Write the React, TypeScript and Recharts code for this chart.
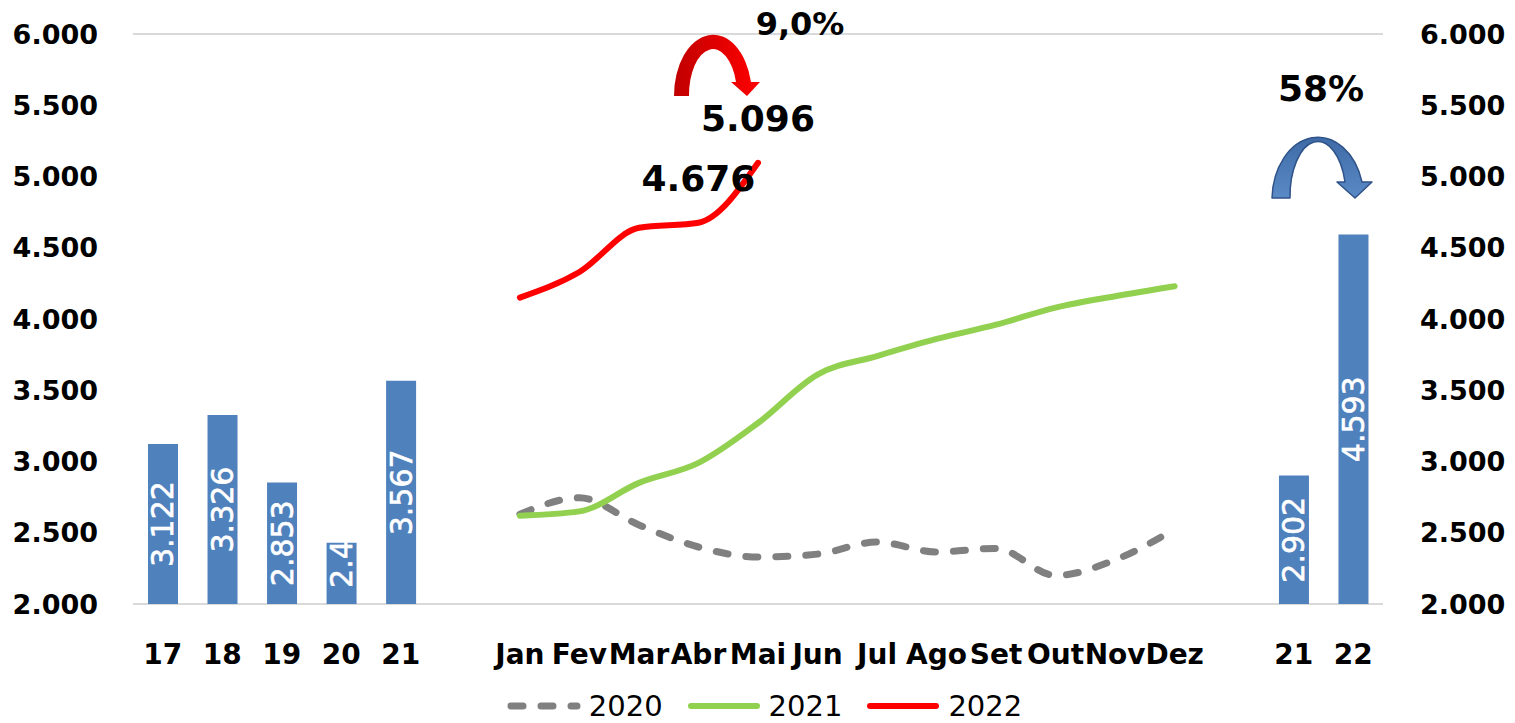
import React from 'react';
import {
  ComposedChart,
  Bar,
  Line,
  XAxis,
  YAxis,
  CartesianGrid,
  Legend,
  LabelList,
} from 'recharts';

if (typeof document !== 'undefined') document.body.style.margin = '0';

const yearLabels = ['17', '18', '19', '20', '21'];
const yearTotals = [3122, 3326, 2853, 2430, 3567];

const months = ['Jan', 'Fev', 'Mar', 'Abr', 'Mai', 'Jun', 'Jul', 'Ago', 'Set', 'Out', 'Nov', 'Dez'];
const s2020 = [2630, 2745, 2555, 2400, 2330, 2350, 2435, 2365, 2390, 2200, 2310, 2525];
const s2021 = [2620, 2650, 2850, 2990, 3270, 3610, 3740, 3860, 3960, 4080, 4160, 4230];
const s2022 = [4150, 4330, 4640, 4676, 5096];
const labelled2022 = [3, 4];

const ytdLabels = ['21', '22'];
const ytdTotals = [2902, 4593];

const yTicks = [2000, 2500, 3000, 3500, 4000, 4500, 5000, 5500, 6000];

const fmt = (n: number) => String(n).replace(/\B(?=(\d{3})+(?!\d))/g, '.');

const rows: any[] = [
  ...yearLabels.map((l, i) => ({ key: 'a' + i, label: l, total: yearTotals[i] })),
  { key: 'gap1', label: '' },
  ...months.map((m, i) => ({
    key: 'm' + i,
    label: m,
    v2020: s2020[i],
    v2021: s2021[i],
    v2022: i < s2022.length ? s2022[i] : null,
  })),
  { key: 'gap2', label: '' },
  ...ytdLabels.map((l, i) => ({ key: 'b' + i, label: l, total: ytdTotals[i] })),
];
const labelOf: Record<string, string> = {};
rows.forEach((r) => (labelOf[r.key] = r.label));

const FONT = "'DejaVu Sans', sans-serif";

const BarValue = (props: any) => {
  const { x, y, width, height, value } = props;
  const cx = x + width / 2;
  const cy = Math.min(y + height / 2, y + height - 59);
  return (
    <text
      x={cx}
      y={cy}
      transform={`rotate(-90 ${cx} ${cy})`}
      textAnchor="middle"
      dominantBaseline="central"
      fill="#fff"
      fontSize={30}
      fontFamily={FONT}
      stroke="#fff"
      strokeWidth={0.6}
    >
      {fmt(value)}
    </text>
  );
};

const PointValue = (props: any) => {
  const { x, y, index, value } = props;
  if (!labelled2022.includes(index - (yearLabels.length + 1))) return null;
  return (
    <text x={x} y={y - 32} textAnchor="middle" fontSize={36} fontWeight="bold" fontFamily={FONT} fill="#000">
      {fmt(value)}
    </text>
  );
};

const legendItems = [
  { name: '2020', color: '#808080', dash: '12 18' },
  { name: '2021', color: '#92D050', dash: undefined },
  { name: '2022', color: '#FF0000', dash: undefined },
];

const LegendBox = () => (
  <div
    style={{
      display: 'flex',
      justifyContent: 'center',
      alignItems: 'center',
      height: 40,
      gap: 24,
      paddingLeft: 14,
      paddingTop: 6,
      boxSizing: 'border-box',
    }}
  >
    {legendItems.map((it) => (
      <div key={it.name} style={{ display: 'flex', alignItems: 'center', gap: 8 }}>
        <svg width={74} height={12}>
          <line
            x1={4}
            y1={6}
            x2={70}
            y2={6}
            stroke={it.color}
            strokeWidth={it.dash ? 7 : 6}
            strokeDasharray={it.dash}
            strokeLinecap="round"
          />
        </svg>
        <span style={{ fontFamily: FONT, fontSize: 29, color: '#000', lineHeight: '34px' }}>{it.name}</span>
      </div>
    ))}
  </div>
);

export default function App() {
  return (
    <div style={{ position: 'relative', width: 1515, height: 723, background: '#fff' }}>
      <ComposedChart width={1515} height={723} data={rows} margin={{ top: 34, right: 0, bottom: 0, left: 0 }}>
        <CartesianGrid vertical={false} stroke="#d9d9d9" strokeWidth={2} />
        <XAxis
          dataKey="key"
          interval={0}
          height={79}
          axisLine={false}
          tickLine={false}
          tickMargin={34}
          tickFormatter={(v: string) => labelOf[v]}
          tick={{ fontSize: 28, fontWeight: 'bold', fill: '#000', fontFamily: FONT }}
        />
        <YAxis
          yAxisId="left"
          width={133}
          domain={[2000, 6000]}
          ticks={yTicks}
          allowDataOverflow
          axisLine={false}
          tickLine={false}
          tickMargin={29}
          tickFormatter={fmt}
          tick={{ fontSize: 27, fontWeight: 'bold', fill: '#000', fontFamily: FONT }}
        />
        <YAxis
          yAxisId="right"
          orientation="right"
          width={132}
          domain={[2000, 6000]}
          ticks={yTicks}
          allowDataOverflow
          axisLine={false}
          tickLine={false}
          tickMargin={31}
          tickFormatter={fmt}
          tick={{ fontSize: 27, fontWeight: 'bold', fill: '#000', fontFamily: FONT }}
        />
        <Legend verticalAlign="bottom" content={<LegendBox />} />
        <Bar yAxisId="left" dataKey="total" fill="#4F81BD" barSize={30} isAnimationActive={false} legendType="none">
          <LabelList dataKey="total" content={<BarValue />} />
        </Bar>
        <Line
          yAxisId="right"
          type="monotone"
          dataKey="v2020"
          stroke="#808080"
          strokeWidth={7}
          strokeDasharray="12 18"
          strokeLinecap="round"
          dot={false}
          isAnimationActive={false}
        />
        <Line
          yAxisId="right"
          type="monotone"
          dataKey="v2021"
          stroke="#92D050"
          strokeWidth={6}
          strokeLinecap="round"
          dot={false}
          isAnimationActive={false}
        />
        <Line
          yAxisId="right"
          type="monotone"
          dataKey="v2022"
          stroke="#FF0000"
          strokeWidth={6}
          strokeLinecap="round"
          dot={false}
          isAnimationActive={false}
        >
          <LabelList dataKey="v2022" content={<PointValue />} />
        </Line>
      </ComposedChart>
      <svg
        width={1515}
        height={723}
        style={{ position: 'absolute', left: 0, top: 0, pointerEvents: 'none' }}
      >
        <defs>
          <linearGradient id="redArrow" x1="0" y1="0" x2="1" y2="0">
            <stop offset="0" stopColor="#C00000" />
            <stop offset="0.5" stopColor="#E00000" />
            <stop offset="1" stopColor="#FF0000" />
          </linearGradient>
          <linearGradient id="blueArrow" x1="0" y1="0" x2="0" y2="1">
            <stop offset="0" stopColor="#3E6BA6" />
            <stop offset="1" stopColor="#5A8AC6" />
          </linearGradient>
        </defs>
        <path
          d="M674,96 A39,61 0 0 1 751,82 L760,82 L747,96 L731,82 L736,82 A24,46 0 0 0 689,96 Z"
          fill="url(#redArrow)"
        />
        <path
          d="M1272,198 A46,63 0 0 1 1362,182 L1372,182 L1355,198 L1337,182 L1345,182 A28,55 0 0 0 1290,198 Z"
          fill="url(#blueArrow)"
          stroke="#2F5289"
          strokeWidth={1.5}
          strokeLinejoin="round"
        />
        <text x={800} y={35} textAnchor="middle" fontSize={32} fontWeight="bold" fontFamily={FONT} fill="#000">
          9,0%
        </text>
        <text x={1321} y={101} textAnchor="middle" fontSize={36} fontWeight="bold" fontFamily={FONT} fill="#000">
          58%
        </text>
      </svg>
    </div>
  );
}
